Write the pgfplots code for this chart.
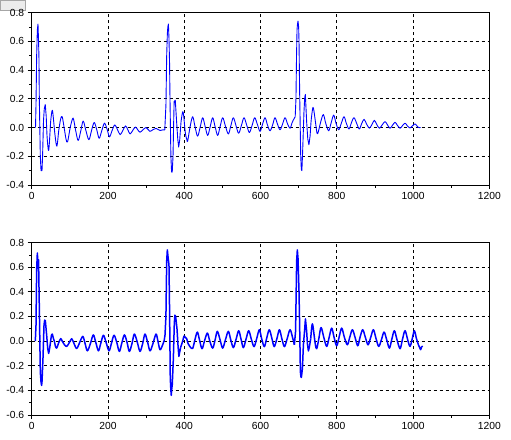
\documentclass[border=0pt]{standalone}
\usepackage{fontspec}
\setmainfont{Liberation Sans}
\usepackage{pgfplots}
\pgfplotsset{compat=1.18}
\definecolor{sigBlue}{RGB}{0,0,255}

\pgfplotsset{
  scopeplot/.style={
    scale only axis,
    width=457.6pt,
    height=172.5pt,
    xmin=0, xmax=1200,
    xtick={0,200,400,600,800,1000,1200},
    minor x tick num=1,
    minor y tick num=1,
    tick pos=left,
    tick align=outside,
    major tick length=4pt,
    minor tick length=2.5pt,
    grid=major,
    major grid style={black, dash pattern=on 3pt off 3pt, line width=0.75pt},
    axis line style={black, line width=0.8pt},
    tick style={black, line width=0.6pt},
    ticklabel style={font=\fontsize{10.3}{12}\selectfont},
    /pgf/number format/assume math mode=true,
    yticklabel style={/pgf/number format/fixed,
      /pgf/number format/precision=1,
      /pgf/number format/fixed zerofill},
    xticklabel style={/pgf/number format/1000 sep={}},
    clip=false,
  },
  spike/.style={sigBlue, line width=#1, line join=round},
  tail/.style={sigBlue, line width=#1, smooth, tension=0.55, line join=round},
}

\begin{document}
\begin{tikzpicture}
\useasboundingbox (0,0) rectangle (511pt,-439pt);
% window button in the corner
\draw[gray!70, fill=gray!15, line width=0.6pt] (0.5pt,-0.5pt) rectangle (25pt,-10pt);

% ---------------- top signal ----------------
\begin{axis}[scopeplot, at={(31.7pt,-185pt)}, anchor=south west,
    ymin=-0.4, ymax=0.8,
    ytick={-0.4,-0.2,0,0.2,0.4,0.6,0.8}]
\addplot[spike=0.9pt] coordinates {
(10,0) (11.3,0.16) (13,0.5) (14.8,0.68) (16.5,0.72) (18,0.6) (19,0.49) (20,0.2)
(22.6,-0.2) (24.5,-0.30) (27,-0.30) (28.5,-0.2) (31,0.05) (33,0.13) (35.5,0.16)
(38,0.08) (40,-0.05)
};
\addplot[tail=0.9pt] coordinates {
(40,-0.05) (42,-0.12) (44.5,-0.16) (47,-0.08) (50,0.05) (54,0.12)
(57,0.06) (61,-0.05) (66,-0.13) (71,-0.02) (76,0.06) (80,0.075) (85,0.0)
(90,-0.08) (94,-0.10) (101,0.0) (107,0.06) (110,0.055) (116,-0.03) (122,-0.09)
(129,-0.02) (135,0.045) (142,-0.02) (150,-0.085) (157,-0.02) (164,0.035)
(171,-0.02) (177,-0.075) (184,-0.02) (191,0.03) (198,-0.015) (204,-0.065)
(211,-0.02) (218,0.018) (225,-0.015) (232,-0.05) (239,-0.02) (246,0.011)
(252,-0.015) (258,-0.045) (265,-0.02) (272,0.003) (278,-0.015) (284,-0.033)
(292,-0.015) (300,0.0) (305,-0.013) (310,-0.027) (318,-0.015) (326,-0.006)
(331,-0.013) (337,-0.021) (343,-0.017) (349,-0.016)
};
\addplot[spike=0.9pt] coordinates {
(349,-0.016) (352,0.155) (354,0.5) (355.7,0.65) (357,0.70) (358.5,0.72) (360,0.62)
(361.5,0.45) (362.7,0.19) (365,-0.2) (366.8,-0.31) (368.5,-0.31) (370.6,-0.2)
(372,0.0) (373.5,0.18) (376.5,0.19) (380,0.04) (383,-0.08) (385.4,-0.136)
(388,-0.09) (391.6,0.04)
};
\addplot[tail=0.9pt] coordinates {
(391.6,0.04) (395.9,0.11) (398.6,0.08) (403,-0.04) (407,-0.085)
(409,-0.095) (415,0.0) (422,0.075) (428,0.01) (435,-0.06) (442,0.005)
(448.4,0.068) (455,0.005) (461.5,-0.055) (468,0.005) (474.6,0.068) (481,0.005)
(487.7,-0.055) (494,0.005) (500.8,0.068) (508,0.01) (515.7,-0.045) (522,0.01)
(528.8,0.068) (536,0.01) (542.8,-0.04) (550,0.015) (556.8,0.068) (564,0.015)
(570.8,-0.035) (578,0.015) (584.8,0.068) (592,0.02) (598.8,-0.027) (605,0.02)
(611.9,0.068) (618,0.02) (625,-0.023) (632,0.02) (638,0.068) (645,0.02)
(651.3,-0.016) (658,0.025) (664.4,0.068) (671,0.025) (677.5,-0.005)
(683,0.035) (688.8,0.065) (691,0.075)
};
\addplot[spike=0.9pt] coordinates {
(691,0.075) (693,0.2) (694.5,0.5) (695.8,0.68) (697,0.72) (698.4,0.74) (700,0.7)
(701,0.6) (702.8,0.22) (705.4,-0.19) (707,-0.29) (708.5,-0.30) (710.6,-0.16)
(714,0.11) (716,0.21) (717.6,0.23) (721,0.04) (724,-0.08) (727,-0.12)
(730,-0.06) (732.5,0.04)
};
\addplot[tail=0.9pt] coordinates {
(732.5,0.04) (737.7,0.14) (743,0.06) (747,-0.02) (750,-0.043) (758,0.04)
(764.8,0.09) (771,0.03) (778.8,-0.023) (785,0.03) (791.9,0.086) (798,0.03)
(805,-0.016) (812,0.03) (819,0.075) (825,0.03) (832,-0.01) (838,0.03)
(845,0.068) (852,0.03) (859,-0.01) (865,0.025) (871.5,0.057) (878,0.025)
(885.5,-0.005) (892,0.02) (898.6,0.05) (905,0.02) (911.8,-0.005) (919,0.018)
(926.6,0.041) (933,0.018) (939.7,-0.005) (946,0.015) (952.8,0.036) (959,0.015)
(966,-0.005) (972,0.012) (979,0.03) (985,0.012) (992,-0.003) (998,0.01)
(1005,0.025) (1010,0.012) (1014,0.0) (1020,0.0)
};
\end{axis}

% ---------------- bottom signal ----------------
\begin{axis}[scopeplot, at={(31.7pt,-415pt)}, anchor=south west,
    ymin=-0.6, ymax=0.8,
    ytick={-0.6,-0.4,-0.2,0,0.2,0.4,0.6,0.8}]
\addplot[spike=1.5pt] coordinates {
(9.5,0) (11.3,0.13) (13,0.58) (14.8,0.715) (16,0.65) (16.8,0.59) (18,0.66)
(20,0.27) (22.6,-0.25) (24.4,-0.33) (26,-0.36) (27,-0.33) (29.6,-0.14)
(32.3,0.13) (34,0.17) (35.8,0.165) (39.2,0.05) (42,-0.06) (44.5,-0.10)
(47,-0.06) (49.7,0.0)
};
\addplot[tail=1.5pt] coordinates {
(49.7,0.0) (52,0.05) (54,0.057) (57,0.02) (59.4,0.0) (62,-0.04)
(65.5,-0.057) (70,-0.02) (76,0.02) (80,0.0) (86,-0.03) (92,-0.043) (99,-0.01)
(105,0.019) (111,-0.02) (118,-0.06) (126,-0.01) (134,0.038) (140,-0.02)
(146,-0.079) (154,-0.02) (161.6,0.05) (168,-0.01) (175,-0.079) (181,-0.02)
(188,0.047) (195,-0.01) (202.7,-0.079) (209,-0.02) (215.8,0.047) (223,-0.01)
(229.8,-0.084) (236,-0.02) (243,0.05) (250,-0.01) (256,-0.084) (263,-0.02)
(269.2,0.057) (277,-0.01) (284,-0.084) (291,-0.02) (297.1,0.057) (304,-0.01)
(310.3,-0.079) (318,-0.02) (326,0.057) (331,0.0) (336.5,-0.07) (343.5,-0.03)
(347,0.0) (349.6,0.05)
};
\addplot[spike=1.5pt] coordinates {
(349.6,0.05) (352,0.2) (354,0.65) (355.7,0.74) (357,0.70) (358,0.67) (360,0.62)
(361.6,0.24) (363.4,-0.3) (365,-0.40) (366,-0.44) (367.5,-0.38) (368.6,-0.355)
(371.4,-0.15) (374,0.146) (375.5,0.21) (377.5,0.2) (381,0.1) (384,-0.05)
(386,-0.125) (388,-0.09) (390.6,-0.05)
};
\addplot[tail=1.5pt] coordinates {
(390.6,-0.05) (396,0.0) (399.4,0.04) (403,0.03)
(406.4,0.02) (410,-0.02) (415,-0.045) (422,-0.06) (428,0.01) (434.4,0.073)
(440,0.01) (446.6,-0.062) (453,0.0) (460.6,0.065) (467,0.0) (474.6,-0.057)
(481,0.01) (486.8,0.079) (494,0.01) (500.8,-0.057) (508,0.01) (515.7,0.079)
(522,0.01) (528.8,-0.053) (536,0.015) (542.8,0.084) (549,0.015) (555,-0.053)
(562,0.015) (569,0.084) (576,0.015) (583,-0.045) (590,0.02) (597,0.092)
(603,0.02) (610,-0.045) (616,0.02) (623,0.092) (630,0.02) (636,-0.045)
(643,0.02) (649.6,0.092) (656,0.02) (662.7,-0.045) (670,0.02) (677.5,0.092)
(684.4,0.025) (688.8,-0.03)
};
\addplot[spike=1.5pt] coordinates {
(688.8,-0.03) (692,0.08)
(694.8,0.65) (696.6,0.74) (698.4,0.67) (701,0.4) (702.8,0.1) (704.6,-0.25)
(706,-0.29) (707.2,-0.295) (710,-0.22) (712.5,-0.03) (716,0.1) (717.8,0.18)
(721,0.08) (723,-0.02) (725.6,-0.08) (728,-0.05) (731.7,0.02)
};
\addplot[tail=1.5pt] coordinates {
(731.7,0.02) (736,0.14)
(741.3,0.03) (744,-0.03) (747.4,-0.062) (753,0.02) (758.8,0.11) (766,0.03)
(773.6,-0.043) (780,0.03) (786.7,0.105) (793,0.03) (799.8,-0.038) (806,0.03)
(812.9,0.105) (820,0.03) (827.8,-0.03) (834,0.03) (841,0.092) (848,0.03)
(855,-0.038) (861,0.03) (868,0.092) (875,0.03) (882,-0.03) (889,0.03)
(896.1,0.092) (903,0.02) (910,-0.043) (917,0.01) (924,0.073) (931,0.01)
(938,-0.057) (944,0.01) (951,0.084) (958,0.01) (966,-0.062) (972,0.01)
(979,0.084) (986,0.01) (992.1,-0.043) (998,0.02) (1003.4,0.084) (1009,0.02)
(1014,-0.03) (1017,-0.05) (1020,-0.07) (1022,-0.05) (1025,-0.04)
};
\end{axis}
\end{tikzpicture}
\end{document}
